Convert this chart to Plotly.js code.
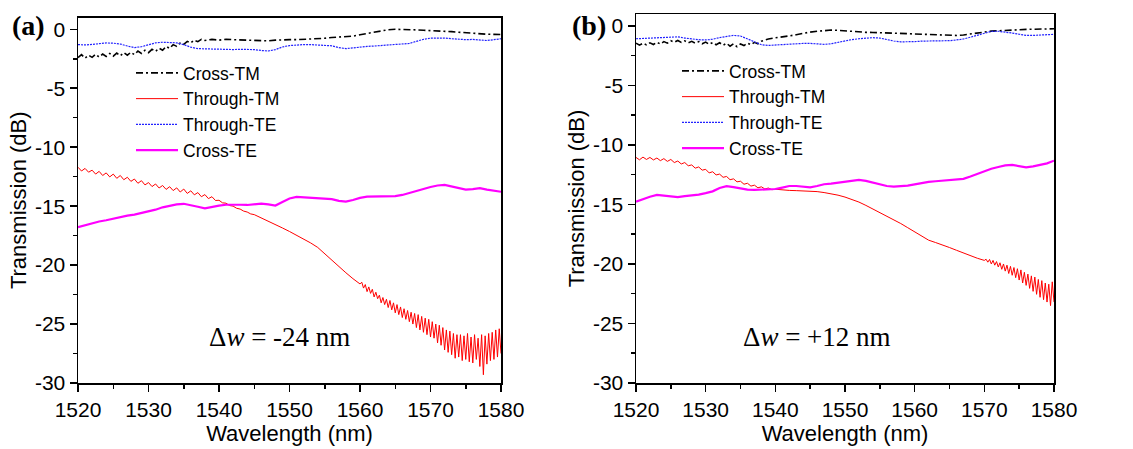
<!DOCTYPE html>
<html>
<head>
<meta charset="utf-8">
<script src="https://cdn.plot.ly/plotly-3.0.1.min.js"></script>
<style>html,body{margin:0;padding:0;background:#fff}#chart{width:1133px;height:449px}</style>
</head>
<body>
<div id="chart"></div>
<script>
// ---------- Panel (a): dw = -24 nm ----------
const aCrossTM_x = [1520,1520.5,1521,1521.5,1522,1522.5,1523,1523.5,1524,1524.5,1525,1525.5,1526,1526.5,1527,1527.5,1528,1528.5,1529,1529.5,1530,1530.5,1531,1531.5,1532,1532.5,1533,1533.5,1534,1534.5,1535,1535.5,1536,1536.5,1537,1537.5,1538,1539,1540,1541,1542,1543,1544,1545,1546,1547,1548,1549,1550,1551,1552,1553,1554,1555,1556,1557,1558,1559,1560,1561,1562,1563,1564,1565,1566,1567,1568,1569,1570,1571,1572,1573,1574,1575,1576,1577,1578,1579,1580];
const aCrossTM_y = [-2.40,-2.15,-2.45,-2.20,-2.38,-2.12,-2.35,-2.10,-2.30,-2.05,-2.28,-2.02,-2.25,-1.98,-2.20,-1.95,-2.15,-1.85,-2.05,-1.78,-1.98,-1.70,-1.88,-1.60,-1.78,-1.45,-1.62,-1.30,-1.45,-1.15,-1.28,-1.02,-1.15,-0.92,-1.05,-0.85,-0.95,-0.86,-0.92,-0.85,-0.88,-0.90,-0.95,-0.98,-1.00,-0.98,-0.92,-0.88,-0.88,-0.88,-0.86,-0.85,-0.82,-0.76,-0.70,-0.68,-0.66,-0.58,-0.46,-0.36,-0.22,-0.10,-0.04,0.00,0.00,-0.02,-0.05,-0.08,-0.10,-0.12,-0.15,-0.20,-0.25,-0.30,-0.35,-0.40,-0.42,-0.43,-0.44];

const aThroughTE_x = [1520,1521,1522,1523,1524,1525,1526,1527,1528,1529,1530,1531,1532,1533,1534,1535,1536,1537,1538,1539,1540,1541,1542,1543,1544,1545,1546,1547,1548,1549,1550,1551,1552,1553,1554,1555,1556,1557,1558,1559,1560,1561,1562,1563,1564,1565,1566,1567,1568,1569,1570,1571,1572,1573,1574,1575,1576,1577,1578,1579,1580];
const aThroughTE_y = [-1.30,-1.33,-1.28,-1.20,-1.16,-1.18,-1.25,-1.42,-1.55,-1.48,-1.30,-1.15,-1.10,-1.12,-1.15,-1.30,-1.52,-1.64,-1.66,-1.70,-1.68,-1.70,-1.72,-1.70,-1.68,-1.72,-1.80,-1.84,-1.72,-1.50,-1.38,-1.32,-1.30,-1.30,-1.33,-1.35,-1.40,-1.55,-1.64,-1.58,-1.50,-1.45,-1.42,-1.38,-1.35,-1.33,-1.30,-1.20,-1.02,-0.85,-0.75,-0.72,-0.74,-0.80,-0.86,-0.88,-0.86,-0.90,-0.95,-0.88,-0.80];

const aCrossTE_x = aThroughTE_x;
const aCrossTE_y = [-16.78,-16.60,-16.45,-16.30,-16.20,-16.05,-15.92,-15.80,-15.72,-15.60,-15.45,-15.30,-15.10,-14.95,-14.85,-14.80,-14.90,-15.05,-15.18,-15.05,-14.95,-14.88,-14.85,-14.88,-14.90,-14.85,-14.78,-14.85,-14.95,-14.65,-14.35,-14.22,-14.25,-14.30,-14.32,-14.35,-14.40,-14.55,-14.62,-14.48,-14.30,-14.20,-14.20,-14.18,-14.16,-14.15,-14.05,-13.90,-13.75,-13.55,-13.38,-13.25,-13.20,-13.35,-13.50,-13.60,-13.55,-13.48,-13.60,-13.72,-13.78];

const aThroughTM_x = [1520,1520.5,1521,1521.5,1522,1522.5,1523,1523.5,1524,1524.5,1525,1525.5,1526,1526.5,1527,1527.5,1528,1528.5,1529,1529.5,1530,1530.5,1531,1531.5,1532,1532.5,1533,1533.5,1534,1534.5,1535,1535.5,1536,1536.5,1537,1537.5,1538,1538.5,1539,1539.5,1540,1540.5,1541,1541.5,1542,1542.5,1543,1543.5,1544,1544.5,1545,
 1546,1547,1548,1549,1550,1551,1552,1553,1554,1555,1556,1557,1558,1559,1560,
 1560.25,1560.5,1560.75,1561,1561.25,1561.5,1561.75,1562,1562.25,1562.5,1562.75,1563,1563.25,1563.5,1563.75,1564,1564.25,1564.5,1564.75,1565,1565.25,1565.5,1565.75,1566,1566.25,1566.5,1566.75,1567,1567.25,1567.5,1567.75,1568,1568.25,1568.5,1568.75,1569,1569.25,1569.5,1569.75,1570,1570.25,1570.5,1570.75,1571,1571.25,1571.5,1571.75,1572,1572.25,1572.5,1572.75,1573,1573.25,1573.5,1573.75,1574,1574.25,1574.5,1574.75,1575,1575.25,1575.5,1575.75,1576,1576.25,1576.5,1576.75,1577,1577.25,1577.5,1577.75,1578,1578.25,1578.5,1578.75,1579,1579.25,1579.5,1579.75,1580];
const aThroughTM_y = [-11.70,-12.02,-11.80,-12.12,-11.95,-12.28,-12.05,-12.40,-12.18,-12.52,-12.28,-12.64,-12.40,-12.76,-12.55,-12.90,-12.70,-13.06,-12.84,-13.20,-13.00,-13.34,-13.12,-13.46,-13.25,-13.58,-13.35,-13.68,-13.45,-13.80,-13.55,-13.92,-13.70,-14.04,-13.85,-14.20,-14.02,-14.36,-14.20,-14.52,-14.50,-14.72,-14.75,-14.95,-15.00,-15.18,-15.25,-15.42,-15.50,-15.66,-15.72,
 -16.02,-16.30,-16.55,-16.85,-17.15,-17.45,-17.78,-18.12,-18.50,-19.05,-19.60,-20.12,-20.65,-21.15,-21.60,
 -21.45,-21.95,-21.65,-22.25,-21.85,-22.40,-22.05,-22.70,-22.30,-22.85,-22.55,-23.20,-22.75,-23.35,-22.90,-23.60,-23.00,-23.80,-23.20,-24.05,-23.35,-24.20,-23.55,-24.45,-23.70,-24.60,-23.85,-24.80,-24.00,-25.00,-24.10,-25.30,-24.20,-25.50,-24.35,-25.70,-24.50,-25.90,-24.60,-26.10,-24.80,-26.20,-25.00,-26.60,-25.10,-26.80,-25.30,-27.20,-25.50,-27.40,-25.60,-27.60,-25.80,-27.90,-25.90,-27.80,-25.90,-28.10,-26.00,-28.00,-25.80,-28.20,-26.10,-28.30,-25.90,-28.00,-26.20,-28.60,-25.90,-29.30,-26.00,-28.40,-25.80,-28.10,-25.70,-28.00,-25.50,-27.80,-25.40,-27.50];

// ---------- Panel (b): dw = +12 nm ----------
const bCrossTM_x = aCrossTM_x;
const bCrossTM_y = [-1.45,-1.62,-1.45,-1.60,-1.42,-1.56,-1.38,-1.52,-1.32,-1.45,-1.25,-1.38,-1.22,-1.38,-1.25,-1.42,-1.30,-1.45,-1.32,-1.50,-1.36,-1.55,-1.40,-1.58,-1.42,-1.62,-1.46,-1.70,-1.50,-1.75,-1.52,-1.65,-1.45,-1.58,-1.38,-1.50,-1.28,-1.10,-1.00,-0.95,-0.84,-0.74,-0.62,-0.52,-0.45,-0.38,-0.35,-0.37,-0.42,-0.48,-0.52,-0.54,-0.55,-0.56,-0.57,-0.58,-0.62,-0.65,-0.68,-0.70,-0.72,-0.75,-0.78,-0.80,-0.80,-0.76,-0.70,-0.62,-0.52,-0.44,-0.40,-0.36,-0.34,-0.31,-0.29,-0.28,-0.26,-0.25,-0.24];

const bThroughTE_x = aThroughTE_x;
const bThroughTE_y = [-1.08,-1.05,-1.00,-0.98,-0.95,-0.92,-0.92,-1.02,-1.12,-1.16,-1.18,-1.12,-0.98,-0.86,-0.80,-0.85,-1.10,-1.35,-1.58,-1.64,-1.60,-1.56,-1.54,-1.50,-1.47,-1.47,-1.50,-1.55,-1.50,-1.38,-1.25,-1.15,-1.08,-1.02,-0.99,-1.02,-1.15,-1.27,-1.34,-1.36,-1.32,-1.28,-1.27,-1.27,-1.27,-1.24,-1.18,-1.10,-0.95,-0.78,-0.60,-0.46,-0.45,-0.50,-0.60,-0.70,-0.80,-0.80,-0.76,-0.74,-0.71];

const bCrossTE_x = aThroughTE_x;
const bCrossTE_y = [-14.76,-14.55,-14.35,-14.20,-14.25,-14.35,-14.38,-14.30,-14.26,-14.18,-14.05,-13.90,-13.62,-13.47,-13.55,-13.68,-13.75,-13.78,-13.75,-13.72,-13.70,-13.58,-13.45,-13.45,-13.52,-13.56,-13.45,-13.30,-13.25,-13.18,-13.12,-13.02,-12.94,-13.02,-13.15,-13.30,-13.45,-13.50,-13.48,-13.42,-13.32,-13.20,-13.10,-13.05,-13.00,-12.98,-12.94,-12.85,-12.65,-12.42,-12.20,-12.00,-11.85,-11.72,-11.68,-11.78,-11.88,-11.80,-11.70,-11.55,-11.32];

const bThroughTM_x = [1520,1520.5,1521,1521.5,1522,1522.5,1523,1523.5,1524,1524.5,1525,1525.5,1526,1526.5,1527,1527.5,1528,1528.5,1529,1529.5,1530,1530.5,1531,1531.5,1532,1532.5,1533,1533.5,1534,1534.5,1535,1535.5,1536,1536.5,1537,1537.5,1538,1538.5,1539,1539.5,1540,
 1541,1542,1543,1544,1545,1546,1547,1548,1549,1550,1551,1552,1553,1554,1555,1556,1557,1558,1559,1560,1561,1562,1563,1564,1565,1566,1567,1568,1569,1570,
 1570.25,1570.5,1570.75,1571,1571.25,1571.5,1571.75,1572,1572.25,1572.5,1572.75,1573,1573.25,1573.5,1573.75,1574,1574.25,1574.5,1574.75,1575,1575.25,1575.5,1575.75,1576,1576.25,1576.5,1576.75,1577,1577.25,1577.5,1577.75,1578,1578.25,1578.5,1578.75,1579,1579.25,1579.5,1579.75,1580];
const bThroughTM_y = [-11.05,-11.25,-11.02,-11.22,-11.05,-11.26,-11.10,-11.32,-11.15,-11.38,-11.22,-11.48,-11.35,-11.60,-11.48,-11.75,-11.68,-11.95,-11.85,-12.12,-12.05,-12.35,-12.25,-12.52,-12.45,-12.72,-12.65,-12.92,-12.85,-13.10,-13.05,-13.30,-13.22,-13.46,-13.38,-13.60,-13.52,-13.70,-13.62,-13.76,-13.72,
 -13.80,-13.82,-13.84,-13.85,-13.86,-13.92,-14.00,-14.10,-14.22,-14.38,-14.58,-14.80,-15.08,-15.38,-15.66,-15.95,-16.25,-16.60,-16.95,-17.32,-17.70,-18.00,-18.20,-18.38,-18.62,-18.85,-19.08,-19.30,-19.52,-19.70,
 -19.60,-19.85,-19.62,-20.00,-19.70,-20.10,-19.80,-20.25,-19.90,-20.45,-20.00,-20.60,-20.10,-20.80,-20.20,-20.95,-20.30,-21.15,-20.40,-21.35,-20.50,-21.60,-20.70,-21.80,-20.85,-22.05,-21.00,-22.30,-21.10,-22.55,-21.30,-22.80,-21.40,-23.00,-21.60,-23.20,-21.70,-23.50,-21.50,-23.20];

const seriesNames = ['Cross-TM','Through-TM','Through-TE','Cross-TE'];
const xTicks = [1520,1530,1540,1550,1560,1570,1580];
const yTicks = [-30,-25,-20,-15,-10,-5,0];
const panelLabels = ['(a)','(b)'];
const deltaLabels = ['\u0394<i>w</i> = -24 nm','\u0394<i>w</i> = +12 nm'];

// ---------- styling / layout ----------
const ML = 78, MR = 79, MT = 14, MB = 66, W = 1133, H = 449;
const PW = W - ML - MR, PH = H - MT - MB;
const px2x = p => (p - ML) / PW;
const py2y = p => (H - MB - p) / PH;

const styles = {
  'Cross-TM':   {color:'#000000', width:1.6, dash:'7px,3px,2px,3px'},
  'Through-TM': {color:'#ff0000', width:1.0, dash:'solid'},
  'Through-TE': {color:'#2222ff', width:1.2, dash:'2px,1px'},
  'Cross-TE':   {color:'#ff00ff', width:2.2, dash:'solid'}
};

function tr(name, x, y, xa, ya, leg) {
  return {type:'scatter', mode:'lines', name:name, x:x, y:y, xaxis:xa, yaxis:ya,
          legend:leg, line:styles[name]};
}

const data = [
  tr(seriesNames[0], aCrossTM_x, aCrossTM_y, 'x', 'y', 'legend'),
  tr(seriesNames[1], aThroughTM_x, aThroughTM_y, 'x', 'y', 'legend'),
  tr(seriesNames[2], aThroughTE_x, aThroughTE_y, 'x', 'y', 'legend'),
  tr(seriesNames[3], aCrossTE_x, aCrossTE_y, 'x', 'y', 'legend'),
  tr(seriesNames[0], bCrossTM_x, bCrossTM_y, 'x2', 'y2', 'legend2'),
  tr(seriesNames[1], bThroughTM_x, bThroughTM_y, 'x2', 'y2', 'legend2'),
  tr(seriesNames[2], bThroughTE_x, bThroughTE_y, 'x2', 'y2', 'legend2'),
  tr(seriesNames[3], bCrossTE_x, bCrossTE_y, 'x2', 'y2', 'legend2')
];

const tickFont = {family:'Liberation Sans, Arial, sans-serif', size:21, color:'#000'};
const titleFont = {family:'Liberation Sans, Arial, sans-serif', size:22, color:'#000'};

function xAxis(domain, anchor) {
  return {domain:domain, anchor:anchor, range:[1520,1580], tickvals:xTicks, ticktext:xTicks.map(String),
    showgrid:false, zeroline:false, showline:true, linecolor:'#000', linewidth:1.5, mirror:true,
    ticks:'outside', ticklen:7, tickwidth:1.5, tickcolor:'#000', tickfont:tickFont,
    minor:{dtick:5, tick0:1520, ticks:'outside', ticklen:4, tickwidth:1.5, tickcolor:'#000', showgrid:false},
    title:{text:'Wavelength (nm)', font:titleFont, standoff:6}};
}
function yAxis(domain, anchor) {
  return {domain:domain, anchor:anchor, range:[-30,1], tickvals:yTicks, ticktext:yTicks.map(String),
    showgrid:false, zeroline:false, showline:true, linecolor:'#000', linewidth:1.5, mirror:true,
    ticks:'outside', ticklen:7, tickwidth:1.5, tickcolor:'#000', tickfont:tickFont,
    minor:{dtick:2.5, tick0:-30, ticks:'outside', ticklen:4, tickwidth:1.5, tickcolor:'#000', showgrid:false},
    title:{text:'Transmission (dB)', font:titleFont, standoff:2}};
}

const legFont = {family:'Liberation Sans, Arial, sans-serif', size:17.5, color:'#000'};
const annFontSerif = {family:'Liberation Serif, Times New Roman, serif', size:28, color:'#000'};
const deltaFont = {family:'Liberation Serif, Times New Roman, serif', size:27, color:'#000'};

const layout = {
  width:W, height:H, paper_bgcolor:'#fff', plot_bgcolor:'#fff',
  margin:{l:ML, r:MR, t:MT, b:MB, pad:0},
  showlegend:true,
  xaxis: xAxis([0, px2x(501)], 'y'),
  yaxis: yAxis([0, py2y(17.5)], 'x'),
  xaxis2: xAxis([px2x(636), 1], 'y2'),
  yaxis2: yAxis([0, py2y(14)], 'x2'),
  legend:{x:px2x(131), y:py2y(55), xanchor:'left', yanchor:'top', bgcolor:'rgba(0,0,0,0)',
          borderwidth:0, font:legFont, itemwidth:42, tracegroupgap:0},
  legend2:{x:px2x(677), y:py2y(53), xanchor:'left', yanchor:'top', bgcolor:'rgba(0,0,0,0)',
          borderwidth:0, font:legFont, itemwidth:42, tracegroupgap:0},
  annotations:[
    {text:'<b>'+panelLabels[0]+'</b>', xref:'paper', yref:'paper', x:px2x(28.5), y:py2y(25),
     xanchor:'center', yanchor:'middle', showarrow:false, font:annFontSerif},
    {text:'<b>'+panelLabels[1]+'</b>', xref:'paper', yref:'paper', x:px2x(589), y:py2y(25),
     xanchor:'center', yanchor:'middle', showarrow:false, font:annFontSerif},
    {text:deltaLabels[0], xref:'paper', yref:'paper', x:px2x(279), y:py2y(337),
     xanchor:'center', yanchor:'middle', showarrow:false, font:deltaFont},
    {text:deltaLabels[1], xref:'paper', yref:'paper', x:px2x(817), y:py2y(337),
     xanchor:'center', yanchor:'middle', showarrow:false, font:deltaFont}
  ]
};

Plotly.newPlot('chart', data, layout, {staticPlot:true, displayModeBar:false});
</script>
</body>
</html>
